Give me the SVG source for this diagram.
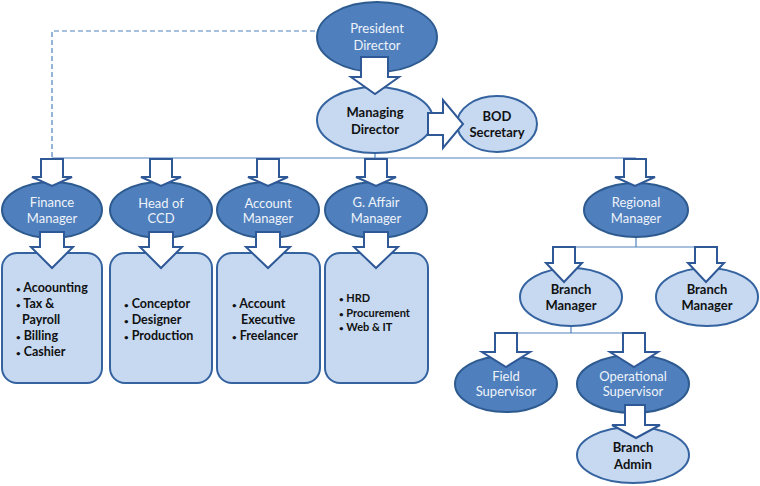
<svg xmlns="http://www.w3.org/2000/svg" width="760" height="486" viewBox="0 0 760 486">
<style>
.dark{fill:#4f7fbd;stroke:#2e5b8f;stroke-width:2}
.light{fill:#c6d9f1;stroke:#3563a0;stroke-width:2}
.arr{fill:#ffffff;stroke:#2f5897;stroke-width:2;stroke-linejoin:miter}
.ln{stroke:#4f81bd;stroke-width:1.2;fill:none}
.dash{stroke:#4f81bd;stroke-width:1.2;fill:none;stroke-dasharray:5 3}
text{font-family:Lato,"Open Sans","Liberation Sans",sans-serif;text-anchor:middle}
.wt{fill:#eef3fa;font-size:13px}
.bt{fill:#111;font-size:13px;font-weight:bold}
.li{fill:#111;font-size:12.5px;font-weight:bold;text-anchor:start}
.lis{fill:#111;font-size:11px;font-weight:bold;text-anchor:start}
.b{font-size:8px}
</style>
<g id="connectors">
<path class="dash" d="M52,157 V31 H318"/>
<path class="ln" d="M375,152 V158 M52,158 H636"/>
<path class="ln" d="M636,237 V247 M564,247 H706"/>
<path class="ln" d="M571,325 V333 M506,333 H634"/>
</g>
<g id="president"><ellipse class="dark" cx="377" cy="37" rx="60" ry="35"/><text class="wt" x="377" y="33" font-size="14">President</text><text class="wt" x="377" y="50">Director</text></g>
<g id="managing"><ellipse class="light" cx="375" cy="120" rx="58" ry="33"/><text class="bt" x="375" y="117">Managing</text><text class="bt" x="375" y="134">Director</text></g>
<g id="bod"><ellipse class="light" cx="497" cy="124" rx="40" ry="28"/><text class="bt" x="497" y="121">BOD</text><text class="bt" x="497" y="137">Secretary</text></g>
<g id="finance"><ellipse class="dark" cx="52" cy="210" rx="50" ry="28"/><text class="wt" x="52" y="207">Finance</text><text class="wt" x="52" y="223">Manager</text></g>
<g id="ccd"><ellipse class="dark" cx="161" cy="210" rx="51" ry="28"/><text class="wt" x="161" y="208" font-size="12">Head of</text><text class="wt" x="161" y="223" font-size="12">CCD</text></g>
<g id="account"><ellipse class="dark" cx="268" cy="210" rx="51" ry="28"/><text class="wt" x="268" y="208" font-size="12">Account</text><text class="wt" x="268" y="223" font-size="12">Manager</text></g>
<g id="gaffair"><ellipse class="dark" cx="376" cy="210" rx="51" ry="28"/><text class="wt" x="376" y="207">G. Affair</text><text class="wt" x="376" y="223">Manager</text></g>
<g id="regional"><ellipse class="dark" cx="636" cy="210" rx="52" ry="27"/><text class="wt" x="636" y="207">Regional</text><text class="wt" x="636" y="223">Manager</text></g>
<g id="finance-box"><rect class="light" x="2" y="253" width="100" height="130" rx="15"/>
<text class="li" x="16" y="292"><tspan class="b">•</tspan> Acoounting</text><text class="li" x="16" y="308"><tspan class="b">•</tspan> Tax &amp;</text><text class="li" x="22" y="324">Payroll</text><text class="li" x="16" y="340"><tspan class="b">•</tspan> Billing</text><text class="li" x="16" y="356"><tspan class="b">•</tspan> Cashier</text></g>
<g id="ccd-box"><rect class="light" x="110" y="253" width="102" height="130" rx="15"/>
<text class="li" x="124" y="308"><tspan class="b">•</tspan> Conceptor</text><text class="li" x="124" y="324"><tspan class="b">•</tspan> Designer</text><text class="li" x="124" y="340"><tspan class="b">•</tspan> Production</text></g>
<g id="account-box"><rect class="light" x="217" y="253" width="103" height="130" rx="15"/>
<text class="li" x="232" y="308"><tspan class="b">•</tspan> Account</text><text class="li" x="241" y="324">Executive</text><text class="li" x="232" y="340"><tspan class="b">•</tspan> Freelancer</text></g>
<g id="gaffair-box"><rect class="light" x="325" y="253" width="103" height="130" rx="15"/>
<text class="lis" x="339" y="302"><tspan class="b">•</tspan> HRD</text><text class="lis" x="339" y="317"><tspan class="b">•</tspan> Procurement</text><text class="lis" x="339" y="331"><tspan class="b">•</tspan> Web &amp; IT</text></g>
<g id="branch1"><ellipse class="light" cx="571" cy="297" rx="51" ry="29"/><text class="bt" x="571" y="294">Branch</text><text class="bt" x="571" y="310">Manager</text></g>
<g id="branch2"><ellipse class="light" cx="707" cy="297" rx="51" ry="29"/><text class="bt" x="707" y="294">Branch</text><text class="bt" x="707" y="310">Manager</text></g>
<g id="field"><ellipse class="dark" cx="506" cy="384" rx="51" ry="28"/><text class="wt" x="506" y="381" font-size="12">Field</text><text class="wt" x="506" y="396" font-size="12">Supervisor</text></g>
<g id="operational"><ellipse class="dark" cx="633" cy="384" rx="56" ry="29"/><text class="wt" x="633" y="381" font-size="12">Operational</text><text class="wt" x="633" y="396" font-size="12">Supervisor</text></g>
<g id="admin"><ellipse class="light" cx="633" cy="455" rx="56" ry="28"/><text class="bt" x="633" y="452">Branch</text><text class="bt" x="633" y="469">Admin</text></g>
<g id="arrows">
<path class="arr" d="M361,57 H388 V77 H399 L375,94 L351,77 H361 Z"/>
<path class="arr" d="M428,113 H443 V100 L463,124 L443,148 V135 H428 Z"/>
<path class="arr" d="M41,159 H63 V177 H72 L52,186 L32,177 H41 Z"/>
<path class="arr" d="M150,159 H172 V177 H181 L161,186 L141,177 H150 Z"/>
<path class="arr" d="M257,159 H279 V177 H288 L268,186 L248,177 H257 Z"/>
<path class="arr" d="M365,159 H387 V177 H396 L376,186 L356,177 H365 Z"/>
<path class="arr" d="M624,159 H646 V177 H655 L635,186 L615,177 H624 Z"/>
<path class="arr" d="M40,232 H64 V247 H73 L52,268 L31,247 H40 Z"/>
<path class="arr" d="M149,232 H173 V247 H182 L161,268 L140,247 H149 Z"/>
<path class="arr" d="M256,232 H280 V247 H290 L268,268 L246,247 H256 Z"/>
<path class="arr" d="M364,232 H388 V247 H398 L376,268 L354,247 H364 Z"/>
<path class="arr" d="M553,247 H575 V263 H582 L564,282 L546,263 H553 Z"/>
<path class="arr" d="M695,247 H717 V263 H724 L706,282 L688,263 H695 Z"/>
<path class="arr" d="M495,333 H517 V352 H530 L506,367 L482,352 H495 Z"/>
<path class="arr" d="M623,333 H645 V352 H658 L634,367 L610,352 H623 Z"/>
<path class="arr" d="M625,405 H645 V425 H660 L636,438 L612,425 H625 Z"/>
</g>
</svg>
